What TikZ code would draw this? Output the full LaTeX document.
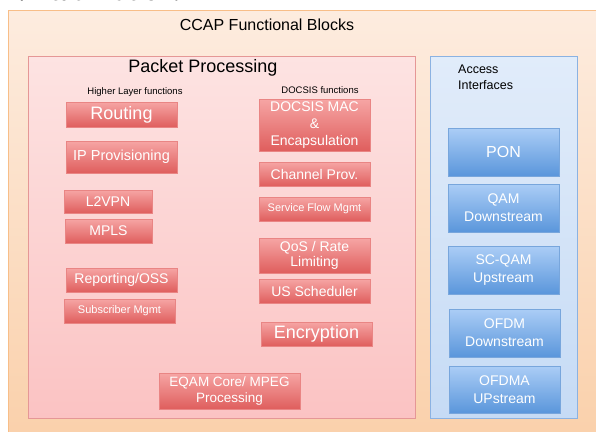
\documentclass[tikz,border=0pt]{standalone}
\usepackage{fontspec}
\setmainfont{Liberation Sans}
\newfontfamily\headserif{Liberation Serif}
\usepackage{tikz}
\usetikzlibrary{shadows,positioning}

\definecolor{ccaptop}{HTML}{FDECDF}
\definecolor{ccapbot}{HTML}{FAD0AA}
\definecolor{ccapline}{HTML}{F8BE88}
\definecolor{pkttop}{HTML}{FDE3E2}
\definecolor{pktbot}{HTML}{FBC3C3}
\definecolor{pktline}{HTML}{E59796}
\definecolor{acctop}{HTML}{E1ECFA}
\definecolor{accbot}{HTML}{C6DBF5}
\definecolor{accline}{HTML}{8BB2E2}
\definecolor{redtop}{HTML}{F6A5A4}
\definecolor{redbot}{HTML}{DF5E5D}
\definecolor{redline}{HTML}{E98584}
\definecolor{bluetop}{HTML}{ABCDF6}
\definecolor{bluebot}{HTML}{5A96DB}
\definecolor{blueline}{HTML}{78A6DC}

\tikzstyle{fblock}=[rectangle, inner sep=1pt, outer sep=0pt, align=center, text=white,
  drop shadow={shadow xshift=0.8pt, shadow yshift=-1pt, opacity=0.25}]
\tikzstyle{redblk}=[fblock, draw=redline, top color=redtop, bottom color=redbot]
\tikzstyle{blueblk}=[fblock, draw=blueline, top color=bluetop, bottom color=bluebot]
\tikzstyle{heading}=[inner sep=0pt, text=black]
\tikzset{wh/.style 2 args={minimum width=#1pt, minimum height=#2pt},
  fs/.style={font=\fontsize{#1}{17}\selectfont}}

\begin{document}
\begin{tikzpicture}[x=1pt,y=-1pt]
	\useasboundingbox (0,0) rectangle (596,431);
	\clip (0,0) rectangle (596,431);
	% cut off page heading
	\node[heading, anchor=base west, font=\headserif\bfseries\fontsize{27}{30}\selectfont] (virt) at (12,1) {Virtualization.};
	
	% containers
	\draw[draw=ccapline, top color=ccaptop, bottom color=ccapbot] (8,10) rectangle (610,445);
	\draw[draw=pktline, top color=pkttop, bottom color=pktbot] (28,56) rectangle (415,418);
	\draw[draw=accline, top color=acctop, bottom color=accbot] (430,56) rectangle (577,418);
	
	\node[heading, fs=16] (ccap) at (267,25) {CCAP Functional Blocks};
	\node[heading, fs=18] (pkt) at (203,68) {Packet Processing};
	\node[heading, fs=9.5] (hlf) at (135,92) {Higher Layer functions};
	\node[heading, fs=9.5] (dcf) at (320,90) {DOCSIS functions};
	\node[heading, anchor=north west, align=left, font=\fontsize{12.5}{16}\selectfont] (acc) at (458,65) {Access\\Interfaces};
	
	% higher layer functions
	\node[redblk, wh={111}{25}, fs=18] (routing) at (121.5,114.5) {Routing};
	\node[redblk, wh={111}{32}, fs=14.5] (ipprov) at (121.5,157) {IP Provisioning};
	\node[redblk, wh={88}{23}, fs=14] (l2vpn) at (108,201.5) {L2VPN};
	\node[redblk, wh={87}{24}, fs=14] (mpls) at (108.5,231) {MPLS};
	\node[redblk, wh={111}{24}, fs=14] (oss) at (121.5,280) {Reporting/OSS};
	\node[redblk, wh={111}{24}, fs=11] (submgmt) at (119.5,311) {Subscriber Mgmt};
	
	% docsis functions
	\node[redblk, wh={111}{52}, fs=14] (docmac) at (314.5,125) {DOCSIS MAC\\\&\\Encapsulation};
	\node[redblk, wh={111}{24}, fs=14] (chprov) at (314.5,174) {Channel Prov.};
	\node[redblk, wh={111}{24}, fs=11] (sfmgmt) at (314.5,209) {Service Flow Mgmt};
	\node[redblk, wh={111}{35}, font=\fontsize{14}{15.5}\selectfont] (qos) at (314.5,255.5) {QoS / Rate\\Limiting};
	\node[redblk, wh={111}{24}, fs=14] (ussched) at (314.5,291) {US Scheduler};
	\node[redblk, wh={111}{24}, fs=18] (encrypt) at (316.5,334) {Encryption};
	\node[redblk, wh={141}{36}, font=\fontsize{13.5}{16}\selectfont] (eqam) at (229.5,391) {EQAM Core/ MPEG\\Processing};
	
	% access interfaces
	\node[blueblk, wh={111}{48}, fs=16] (pon) at (503.5,152) {PON};
	\node[blueblk, wh={111}{48}, font=\fontsize{14}{18}\selectfont] (qamds) at (503.5,208) {QAM\\Downstream};
	\node[blueblk, wh={111}{48}, font=\fontsize{14}{18}\selectfont] (scqam) at (503.5,270) {SC-QAM\\Upstream};
	\node[blueblk, wh={111}{48}, font=\fontsize{14}{18}\selectfont] (ofdmds) at (504.5,333) {OFDM\\Downstream};
	\node[blueblk, wh={111}{47}, font=\fontsize{14}{18}\selectfont] (ofdmaus) at (504.5,389.5) {OFDMA\\UPstream};
\end{tikzpicture}
\end{document}
